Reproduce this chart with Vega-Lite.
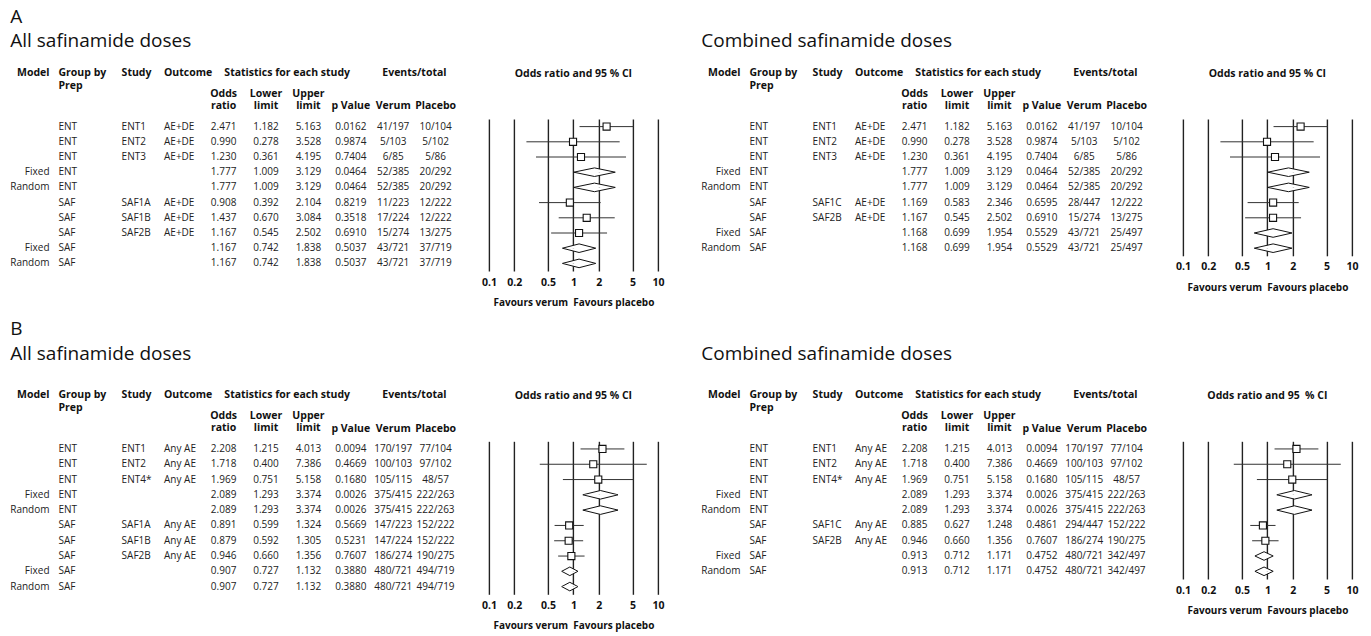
{
"$schema":"https://vega.github.io/schema/vega-lite/v6.json",
"background":"white",
"padding":{"left":10,"top":7,"right":5,"bottom":5},
"config":{"view":{"stroke":null},"font":"Open Sans",
 "text":{"font":"Open Sans","fontSize":10,"color":"#222","baseline":"middle"},
 "title":{"font":"Open Sans","fontSize":19,"fontWeight":"normal","anchor":"start","color":"#111"},
 "axisX":{"grid":true,"gridColor":"#222","gridWidth":1.4,"gridOpacity":1,"ticks":false,"domain":false,"labelFont":"Open Sans","labelFontWeight":"bold","labelFontSize":10.5,"labelColor":"#111","labelPadding":6,"labelFlush":false,"labelOverlap":false,"titleFont":"Open Sans","titleFontSize":10,"titleFontWeight":"bold","titleColor":"#111","titlePadding":10}},
"datasets":{
 "aL":[
  {"row":1,"model":"","group":"ENT","study":"ENT1","outcome":"AE+DE","or":2.471,"lo":1.182,"hi":5.163,"p":0.0162,"verum":"41/197","placebo":"10/104","kind":"study"},
  {"row":2,"model":"","group":"ENT","study":"ENT2","outcome":"AE+DE","or":0.990,"lo":0.278,"hi":3.528,"p":0.9874,"verum":"5/103","placebo":"5/102","kind":"study"},
  {"row":3,"model":"","group":"ENT","study":"ENT3","outcome":"AE+DE","or":1.230,"lo":0.361,"hi":4.195,"p":0.7404,"verum":"6/85","placebo":"5/86","kind":"study"},
  {"row":4,"model":"Fixed","group":"ENT","study":"","outcome":"","or":1.777,"lo":1.009,"hi":3.129,"p":0.0464,"verum":"52/385","placebo":"20/292","kind":"summary"},
  {"row":5,"model":"Random","group":"ENT","study":"","outcome":"","or":1.777,"lo":1.009,"hi":3.129,"p":0.0464,"verum":"52/385","placebo":"20/292","kind":"summary"},
  {"row":6,"model":"","group":"SAF","study":"SAF1A","outcome":"AE+DE","or":0.908,"lo":0.392,"hi":2.104,"p":0.8219,"verum":"11/223","placebo":"12/222","kind":"study"},
  {"row":7,"model":"","group":"SAF","study":"SAF1B","outcome":"AE+DE","or":1.437,"lo":0.670,"hi":3.084,"p":0.3518,"verum":"17/224","placebo":"12/222","kind":"study"},
  {"row":8,"model":"","group":"SAF","study":"SAF2B","outcome":"AE+DE","or":1.167,"lo":0.545,"hi":2.502,"p":0.6910,"verum":"15/274","placebo":"13/275","kind":"study"},
  {"row":9,"model":"Fixed","group":"SAF","study":"","outcome":"","or":1.167,"lo":0.742,"hi":1.838,"p":0.5037,"verum":"43/721","placebo":"37/719","kind":"summary"},
  {"row":10,"model":"Random","group":"SAF","study":"","outcome":"","or":1.167,"lo":0.742,"hi":1.838,"p":0.5037,"verum":"43/721","placebo":"37/719","kind":"summary"}],
 "aR":[
  {"row":1,"model":"","group":"ENT","study":"ENT1","outcome":"AE+DE","or":2.471,"lo":1.182,"hi":5.163,"p":0.0162,"verum":"41/197","placebo":"10/104","kind":"study"},
  {"row":2,"model":"","group":"ENT","study":"ENT2","outcome":"AE+DE","or":0.990,"lo":0.278,"hi":3.528,"p":0.9874,"verum":"5/103","placebo":"5/102","kind":"study"},
  {"row":3,"model":"","group":"ENT","study":"ENT3","outcome":"AE+DE","or":1.230,"lo":0.361,"hi":4.195,"p":0.7404,"verum":"6/85","placebo":"5/86","kind":"study"},
  {"row":4,"model":"Fixed","group":"ENT","study":"","outcome":"","or":1.777,"lo":1.009,"hi":3.129,"p":0.0464,"verum":"52/385","placebo":"20/292","kind":"summary"},
  {"row":5,"model":"Random","group":"ENT","study":"","outcome":"","or":1.777,"lo":1.009,"hi":3.129,"p":0.0464,"verum":"52/385","placebo":"20/292","kind":"summary"},
  {"row":6,"model":"","group":"SAF","study":"SAF1C","outcome":"AE+DE","or":1.169,"lo":0.583,"hi":2.346,"p":0.6595,"verum":"28/447","placebo":"12/222","kind":"study"},
  {"row":7,"model":"","group":"SAF","study":"SAF2B","outcome":"AE+DE","or":1.167,"lo":0.545,"hi":2.502,"p":0.6910,"verum":"15/274","placebo":"13/275","kind":"study"},
  {"row":8,"model":"Fixed","group":"SAF","study":"","outcome":"","or":1.168,"lo":0.699,"hi":1.954,"p":0.5529,"verum":"43/721","placebo":"25/497","kind":"summary"},
  {"row":9,"model":"Random","group":"SAF","study":"","outcome":"","or":1.168,"lo":0.699,"hi":1.954,"p":0.5529,"verum":"43/721","placebo":"25/497","kind":"summary"}],
 "bL":[
  {"row":1,"model":"","group":"ENT","study":"ENT1","outcome":"Any AE","or":2.208,"lo":1.215,"hi":4.013,"p":0.0094,"verum":"170/197","placebo":"77/104","kind":"study"},
  {"row":2,"model":"","group":"ENT","study":"ENT2","outcome":"Any AE","or":1.718,"lo":0.400,"hi":7.386,"p":0.4669,"verum":"100/103","placebo":"97/102","kind":"study"},
  {"row":3,"model":"","group":"ENT","study":"ENT4*","outcome":"Any AE","or":1.969,"lo":0.751,"hi":5.158,"p":0.1680,"verum":"105/115","placebo":"48/57","kind":"study"},
  {"row":4,"model":"Fixed","group":"ENT","study":"","outcome":"","or":2.089,"lo":1.293,"hi":3.374,"p":0.0026,"verum":"375/415","placebo":"222/263","kind":"summary"},
  {"row":5,"model":"Random","group":"ENT","study":"","outcome":"","or":2.089,"lo":1.293,"hi":3.374,"p":0.0026,"verum":"375/415","placebo":"222/263","kind":"summary"},
  {"row":6,"model":"","group":"SAF","study":"SAF1A","outcome":"Any AE","or":0.891,"lo":0.599,"hi":1.324,"p":0.5669,"verum":"147/223","placebo":"152/222","kind":"study"},
  {"row":7,"model":"","group":"SAF","study":"SAF1B","outcome":"Any AE","or":0.879,"lo":0.592,"hi":1.305,"p":0.5231,"verum":"147/224","placebo":"152/222","kind":"study"},
  {"row":8,"model":"","group":"SAF","study":"SAF2B","outcome":"Any AE","or":0.946,"lo":0.660,"hi":1.356,"p":0.7607,"verum":"186/274","placebo":"190/275","kind":"study"},
  {"row":9,"model":"Fixed","group":"SAF","study":"","outcome":"","or":0.907,"lo":0.727,"hi":1.132,"p":0.3880,"verum":"480/721","placebo":"494/719","kind":"summary"},
  {"row":10,"model":"Random","group":"SAF","study":"","outcome":"","or":0.907,"lo":0.727,"hi":1.132,"p":0.3880,"verum":"480/721","placebo":"494/719","kind":"summary"}],
 "bR":[
  {"row":1,"model":"","group":"ENT","study":"ENT1","outcome":"Any AE","or":2.208,"lo":1.215,"hi":4.013,"p":0.0094,"verum":"170/197","placebo":"77/104","kind":"study"},
  {"row":2,"model":"","group":"ENT","study":"ENT2","outcome":"Any AE","or":1.718,"lo":0.400,"hi":7.386,"p":0.4669,"verum":"100/103","placebo":"97/102","kind":"study"},
  {"row":3,"model":"","group":"ENT","study":"ENT4*","outcome":"Any AE","or":1.969,"lo":0.751,"hi":5.158,"p":0.1680,"verum":"105/115","placebo":"48/57","kind":"study"},
  {"row":4,"model":"Fixed","group":"ENT","study":"","outcome":"","or":2.089,"lo":1.293,"hi":3.374,"p":0.0026,"verum":"375/415","placebo":"222/263","kind":"summary"},
  {"row":5,"model":"Random","group":"ENT","study":"","outcome":"","or":2.089,"lo":1.293,"hi":3.374,"p":0.0026,"verum":"375/415","placebo":"222/263","kind":"summary"},
  {"row":6,"model":"","group":"SAF","study":"SAF1C","outcome":"Any AE","or":0.885,"lo":0.627,"hi":1.248,"p":0.4861,"verum":"294/447","placebo":"152/222","kind":"study"},
  {"row":7,"model":"","group":"SAF","study":"SAF2B","outcome":"Any AE","or":0.946,"lo":0.660,"hi":1.356,"p":0.7607,"verum":"186/274","placebo":"190/275","kind":"study"},
  {"row":8,"model":"Fixed","group":"SAF","study":"","outcome":"","or":0.913,"lo":0.712,"hi":1.171,"p":0.4752,"verum":"480/721","placebo":"342/497","kind":"summary"},
  {"row":9,"model":"Random","group":"SAF","study":"","outcome":"","or":0.913,"lo":0.712,"hi":1.171,"p":0.4752,"verum":"480/721","placebo":"342/497","kind":"summary"}],
 "hdr":[
  {"col":"MG","grp":"model","t":"Model"},
  {"col":"MG","grp":"group","t":"Group by\nPrep"},
  {"col":"study","grp":"left","t":"Study"},
  {"col":"outcome","grp":"left","t":"Outcome"},
  {"col":"Stats","grp":"span","t":"Statistics for each study"},
  {"col":"Events","grp":"span","t":"Events/total"},
  {"col":"or","grp":"sub2","t":"Odds\nratio"},
  {"col":"lo","grp":"sub2","t":"Lower\nlimit"},
  {"col":"hi","grp":"sub2","t":"Upper\nlimit"},
  {"col":"p","grp":"sub1","t":"p Value"},
  {"col":"verum","grp":"sub1","t":"Verum"},
  {"col":"placebo","grp":"sub1","t":"Placebo"}],
 "tplTop":[{"k":"lo","pos":"mid"},{"k":"or","pos":"top"},{"k":"hi","pos":"mid"}],
 "tplBot":[{"k":"lo","pos":"mid"},{"k":"or","pos":"bottom"},{"k":"hi","pos":"mid"}]
},
"bounds":"full",
"spacing":11.3,
"vconcat":[
{"title":{"text":"A","offset":5.7},"bounds":"full","spacing":37,"hconcat":[
 {"title":{"text":"All safinamide doses","offset":16.8},"bounds":"flush","spacing":52.9,"hconcat":[
  {"width":381.6,"height":152,"data":{"name":"aL"},"layer":[
   {"mark":{"type":"text","align":"right","dx":-4.5},"encoding":{"x":{"datum":"MG","type":"nominal","scale":{"type":"point","padding":0,"domain":["MG","s1","s2","study","s4","outcome","s6","s7","or","s9","lo","Stats","hi","s13","p","s15","verum","Events","placebo"]},"axis":null},"y":{"field":"row","type":"quantitative","scale":{"domain":[0.5,10.5],"reverse":true,"nice":false,"zero":false},"axis":null},"text":{"field":"model"}}},
   {"mark":{"type":"text","align":"left","dx":4.5},"encoding":{"x":{"datum":"MG","type":"nominal","axis":null},"y":{"field":"row","type":"quantitative","axis":null},"text":{"field":"group"}}},
   {"transform":[{"fold":["study","outcome"],"as":["col","val"]}],"mark":{"type":"text","align":"left","dx":4},"encoding":{"x":{"field":"col","type":"nominal","axis":null},"y":{"field":"row","type":"quantitative","axis":null},"text":{"field":"val"}}},
   {"transform":[{"fold":["or","lo","hi"],"as":["col","val"]}],"mark":{"type":"text","align":"center"},"encoding":{"x":{"field":"col","type":"nominal","axis":null},"y":{"field":"row","type":"quantitative","axis":null},"text":{"field":"val","type":"quantitative","format":".3f"}}},
   {"mark":{"type":"text","align":"center"},"encoding":{"x":{"datum":"p","type":"nominal","axis":null},"y":{"field":"row","type":"quantitative","axis":null},"text":{"field":"p","type":"quantitative","format":".4f"}}},
   {"transform":[{"fold":["verum","placebo"],"as":["col","val"]}],"mark":{"type":"text","align":"center"},"encoding":{"x":{"field":"col","type":"nominal","axis":null},"y":{"field":"row","type":"quantitative","axis":null},"text":{"field":"val"}}},
   {"data":{"name":"hdr"},"transform":[{"filter":"datum.grp==='model'"}],"mark":{"type":"text","align":"right","dx":-4.5,"baseline":"top","fontWeight":"bold","fontSize":10.5,"color":"#111"},"encoding":{"x":{"field":"col","type":"nominal","axis":null},"y":{"datum":-2.85,"type":"quantitative","axis":null},"text":{"field":"t"}}},
   {"data":{"name":"hdr"},"transform":[{"filter":"datum.grp==='group'"}],"mark":{"type":"text","align":"left","dx":4.5,"baseline":"top","lineBreak":"\n","lineHeight":13.3,"fontWeight":"bold","fontSize":10.5,"color":"#111"},"encoding":{"x":{"field":"col","type":"nominal","axis":null},"y":{"datum":-2.85,"type":"quantitative","axis":null},"text":{"field":"t"}}},
   {"data":{"name":"hdr"},"transform":[{"filter":"datum.grp==='left'"}],"mark":{"type":"text","align":"left","dx":4,"baseline":"top","fontWeight":"bold","fontSize":10.5,"color":"#111"},"encoding":{"x":{"field":"col","type":"nominal","axis":null},"y":{"datum":-2.85,"type":"quantitative","axis":null},"text":{"field":"t"}}},
   {"data":{"name":"hdr"},"transform":[{"filter":"datum.grp==='span'"}],"mark":{"type":"text","align":"center","baseline":"top","fontWeight":"bold","fontSize":10.5,"color":"#111"},"encoding":{"x":{"field":"col","type":"nominal","axis":null},"y":{"datum":-2.85,"type":"quantitative","axis":null},"text":{"field":"t"}}},
   {"data":{"name":"hdr"},"transform":[{"filter":"datum.grp==='sub2'"}],"mark":{"type":"text","align":"center","baseline":"top","lineBreak":"\n","lineHeight":12,"fontWeight":"bold","fontSize":10.5,"color":"#111"},"encoding":{"x":{"field":"col","type":"nominal","axis":null},"y":{"datum":-1.45,"type":"quantitative","axis":null},"text":{"field":"t"}}},
   {"data":{"name":"hdr"},"transform":[{"filter":"datum.grp==='sub1'"}],"mark":{"type":"text","align":"center","baseline":"top","fontWeight":"bold","fontSize":10.5,"color":"#111"},"encoding":{"x":{"field":"col","type":"nominal","axis":null},"y":{"datum":-0.66,"type":"quantitative","axis":null},"text":{"field":"t"}}}
  ]},
  {"width":169,"height":152,"data":{"name":"aL"},
   "title":{"text":"Odds ratio and 95 % CI","anchor":"middle","fontSize":10.5,"fontWeight":"bold","offset":39.4},
   "encoding":{"y":{"field":"row","type":"ordinal","scale":{"type":"band","paddingInner":0,"paddingOuter":0},"axis":null}},
   "layer":[
    {"transform":[{"filter":"datum.kind==='study'"}],"mark":{"type":"rule","color":"#333","strokeWidth":1},"encoding":{"x":{"field":"lo","type":"quantitative","scale":{"type":"log","domain":[0.1,10],"nice":false},"axis":{"values":[0.1,0.2,0.5,1,2,5,10],"format":"~g","title":"Favours verum \u00a0Favours placebo"}},"x2":{"field":"hi"}}},
    {"transform":[{"filter":"datum.kind==='study'"}],"mark":{"type":"point","shape":"square","size":50,"filled":true,"fill":"white","stroke":"#111","strokeWidth":1.1,"opacity":1},"encoding":{"x":{"field":"or","type":"quantitative"}}},
    {"transform":[{"filter":"datum.kind==='summary'"},{"fold":["lo","or","hi"],"as":["k","v"]},{"lookup":"k","from":{"data":{"name":"tplTop"},"key":"k","fields":["pos"]}}],"mark":{"type":"line","fill":"white","stroke":"#111","strokeWidth":1},"encoding":{"x":{"field":"v","type":"quantitative"},"yOffset":{"field":"pos","type":"nominal","scale":{"type":"point","domain":["top","mid","bottom"],"padding":0.77}},"detail":{"field":"row","type":"ordinal"},"order":{"field":"v","type":"quantitative"}}},
    {"transform":[{"filter":"datum.kind==='summary'"},{"fold":["lo","or","hi"],"as":["k","v"]},{"lookup":"k","from":{"data":{"name":"tplBot"},"key":"k","fields":["pos"]}}],"mark":{"type":"line","fill":"white","stroke":"#111","strokeWidth":1},"encoding":{"x":{"field":"v","type":"quantitative"},"yOffset":{"field":"pos","type":"nominal","scale":{"type":"point","domain":["top","mid","bottom"],"padding":0.77}},"detail":{"field":"row","type":"ordinal"},"order":{"field":"v","type":"quantitative"}}}
   ]}
 ]},
 {"title":{"text":"Combined safinamide doses","offset":16.8},"bounds":"flush","spacing":55.9,"hconcat":[
  {"width":381.6,"height":136.8,"data":{"name":"aR"},"layer":[
   {"mark":{"type":"text","align":"right","dx":-4.5},"encoding":{"x":{"datum":"MG","type":"nominal","scale":{"type":"point","padding":0,"domain":["MG","s1","s2","study","s4","outcome","s6","s7","or","s9","lo","Stats","hi","s13","p","s15","verum","Events","placebo"]},"axis":null},"y":{"field":"row","type":"quantitative","scale":{"domain":[0.5,9.5],"reverse":true,"nice":false,"zero":false},"axis":null},"text":{"field":"model"}}},
   {"mark":{"type":"text","align":"left","dx":4.5},"encoding":{"x":{"datum":"MG","type":"nominal","axis":null},"y":{"field":"row","type":"quantitative","axis":null},"text":{"field":"group"}}},
   {"transform":[{"fold":["study","outcome"],"as":["col","val"]}],"mark":{"type":"text","align":"left","dx":4},"encoding":{"x":{"field":"col","type":"nominal","axis":null},"y":{"field":"row","type":"quantitative","axis":null},"text":{"field":"val"}}},
   {"transform":[{"fold":["or","lo","hi"],"as":["col","val"]}],"mark":{"type":"text","align":"center"},"encoding":{"x":{"field":"col","type":"nominal","axis":null},"y":{"field":"row","type":"quantitative","axis":null},"text":{"field":"val","type":"quantitative","format":".3f"}}},
   {"mark":{"type":"text","align":"center"},"encoding":{"x":{"datum":"p","type":"nominal","axis":null},"y":{"field":"row","type":"quantitative","axis":null},"text":{"field":"p","type":"quantitative","format":".4f"}}},
   {"transform":[{"fold":["verum","placebo"],"as":["col","val"]}],"mark":{"type":"text","align":"center"},"encoding":{"x":{"field":"col","type":"nominal","axis":null},"y":{"field":"row","type":"quantitative","axis":null},"text":{"field":"val"}}},
   {"data":{"name":"hdr"},"transform":[{"filter":"datum.grp==='model'"}],"mark":{"type":"text","align":"right","dx":-4.5,"baseline":"top","fontWeight":"bold","fontSize":10.5,"color":"#111"},"encoding":{"x":{"field":"col","type":"nominal","axis":null},"y":{"datum":-2.85,"type":"quantitative","axis":null},"text":{"field":"t"}}},
   {"data":{"name":"hdr"},"transform":[{"filter":"datum.grp==='group'"}],"mark":{"type":"text","align":"left","dx":4.5,"baseline":"top","lineBreak":"\n","lineHeight":13.3,"fontWeight":"bold","fontSize":10.5,"color":"#111"},"encoding":{"x":{"field":"col","type":"nominal","axis":null},"y":{"datum":-2.85,"type":"quantitative","axis":null},"text":{"field":"t"}}},
   {"data":{"name":"hdr"},"transform":[{"filter":"datum.grp==='left'"}],"mark":{"type":"text","align":"left","dx":4,"baseline":"top","fontWeight":"bold","fontSize":10.5,"color":"#111"},"encoding":{"x":{"field":"col","type":"nominal","axis":null},"y":{"datum":-2.85,"type":"quantitative","axis":null},"text":{"field":"t"}}},
   {"data":{"name":"hdr"},"transform":[{"filter":"datum.grp==='span'"}],"mark":{"type":"text","align":"center","baseline":"top","fontWeight":"bold","fontSize":10.5,"color":"#111"},"encoding":{"x":{"field":"col","type":"nominal","axis":null},"y":{"datum":-2.85,"type":"quantitative","axis":null},"text":{"field":"t"}}},
   {"data":{"name":"hdr"},"transform":[{"filter":"datum.grp==='sub2'"}],"mark":{"type":"text","align":"center","baseline":"top","lineBreak":"\n","lineHeight":12,"fontWeight":"bold","fontSize":10.5,"color":"#111"},"encoding":{"x":{"field":"col","type":"nominal","axis":null},"y":{"datum":-1.45,"type":"quantitative","axis":null},"text":{"field":"t"}}},
   {"data":{"name":"hdr"},"transform":[{"filter":"datum.grp==='sub1'"}],"mark":{"type":"text","align":"center","baseline":"top","fontWeight":"bold","fontSize":10.5,"color":"#111"},"encoding":{"x":{"field":"col","type":"nominal","axis":null},"y":{"datum":-0.66,"type":"quantitative","axis":null},"text":{"field":"t"}}}
  ]},
  {"width":169,"height":136.8,"data":{"name":"aR"},
   "title":{"text":"Odds ratio and 95 % CI","anchor":"middle","fontSize":10.5,"fontWeight":"bold","offset":39.4},
   "encoding":{"y":{"field":"row","type":"ordinal","scale":{"type":"band","paddingInner":0,"paddingOuter":0},"axis":null}},
   "layer":[
    {"transform":[{"filter":"datum.kind==='study'"}],"mark":{"type":"rule","color":"#333","strokeWidth":1},"encoding":{"x":{"field":"lo","type":"quantitative","scale":{"type":"log","domain":[0.1,10],"nice":false},"axis":{"values":[0.1,0.2,0.5,1,2,5,10],"format":"~g","title":"Favours verum \u00a0Favours placebo"}},"x2":{"field":"hi"}}},
    {"transform":[{"filter":"datum.kind==='study'"}],"mark":{"type":"point","shape":"square","size":50,"filled":true,"fill":"white","stroke":"#111","strokeWidth":1.1,"opacity":1},"encoding":{"x":{"field":"or","type":"quantitative"}}},
    {"transform":[{"filter":"datum.kind==='summary'"},{"fold":["lo","or","hi"],"as":["k","v"]},{"lookup":"k","from":{"data":{"name":"tplTop"},"key":"k","fields":["pos"]}}],"mark":{"type":"line","fill":"white","stroke":"#111","strokeWidth":1},"encoding":{"x":{"field":"v","type":"quantitative"},"yOffset":{"field":"pos","type":"nominal","scale":{"type":"point","domain":["top","mid","bottom"],"padding":0.77}},"detail":{"field":"row","type":"ordinal"},"order":{"field":"v","type":"quantitative"}}},
    {"transform":[{"filter":"datum.kind==='summary'"},{"fold":["lo","or","hi"],"as":["k","v"]},{"lookup":"k","from":{"data":{"name":"tplBot"},"key":"k","fields":["pos"]}}],"mark":{"type":"line","fill":"white","stroke":"#111","strokeWidth":1},"encoding":{"x":{"field":"v","type":"quantitative"},"yOffset":{"field":"pos","type":"nominal","scale":{"type":"point","domain":["top","mid","bottom"],"padding":0.77}},"detail":{"field":"row","type":"ordinal"},"order":{"field":"v","type":"quantitative"}}}
   ]}
 ]}
]},
{"title":{"text":"B","offset":5.7},"bounds":"full","spacing":37,"hconcat":[
 {"title":{"text":"All safinamide doses","offset":26.5},"bounds":"flush","spacing":52.9,"hconcat":[
  {"width":381.6,"height":153,"data":{"name":"bL"},"layer":[
   {"mark":{"type":"text","align":"right","dx":-4.5},"encoding":{"x":{"datum":"MG","type":"nominal","scale":{"type":"point","padding":0,"domain":["MG","s1","s2","study","s4","outcome","s6","s7","or","s9","lo","Stats","hi","s13","p","s15","verum","Events","placebo"]},"axis":null},"y":{"field":"row","type":"quantitative","scale":{"domain":[0.5,10.5],"reverse":true,"nice":false,"zero":false},"axis":null},"text":{"field":"model"}}},
   {"mark":{"type":"text","align":"left","dx":4.5},"encoding":{"x":{"datum":"MG","type":"nominal","axis":null},"y":{"field":"row","type":"quantitative","axis":null},"text":{"field":"group"}}},
   {"transform":[{"fold":["study","outcome"],"as":["col","val"]}],"mark":{"type":"text","align":"left","dx":4},"encoding":{"x":{"field":"col","type":"nominal","axis":null},"y":{"field":"row","type":"quantitative","axis":null},"text":{"field":"val"}}},
   {"transform":[{"fold":["or","lo","hi"],"as":["col","val"]}],"mark":{"type":"text","align":"center"},"encoding":{"x":{"field":"col","type":"nominal","axis":null},"y":{"field":"row","type":"quantitative","axis":null},"text":{"field":"val","type":"quantitative","format":".3f"}}},
   {"mark":{"type":"text","align":"center"},"encoding":{"x":{"datum":"p","type":"nominal","axis":null},"y":{"field":"row","type":"quantitative","axis":null},"text":{"field":"p","type":"quantitative","format":".4f"}}},
   {"transform":[{"fold":["verum","placebo"],"as":["col","val"]}],"mark":{"type":"text","align":"center"},"encoding":{"x":{"field":"col","type":"nominal","axis":null},"y":{"field":"row","type":"quantitative","axis":null},"text":{"field":"val"}}},
   {"data":{"name":"hdr"},"transform":[{"filter":"datum.grp==='model'"}],"mark":{"type":"text","align":"right","dx":-4.5,"baseline":"top","fontWeight":"bold","fontSize":10.5,"color":"#111"},"encoding":{"x":{"field":"col","type":"nominal","axis":null},"y":{"datum":-2.85,"type":"quantitative","axis":null},"text":{"field":"t"}}},
   {"data":{"name":"hdr"},"transform":[{"filter":"datum.grp==='group'"}],"mark":{"type":"text","align":"left","dx":4.5,"baseline":"top","lineBreak":"\n","lineHeight":13.3,"fontWeight":"bold","fontSize":10.5,"color":"#111"},"encoding":{"x":{"field":"col","type":"nominal","axis":null},"y":{"datum":-2.85,"type":"quantitative","axis":null},"text":{"field":"t"}}},
   {"data":{"name":"hdr"},"transform":[{"filter":"datum.grp==='left'"}],"mark":{"type":"text","align":"left","dx":4,"baseline":"top","fontWeight":"bold","fontSize":10.5,"color":"#111"},"encoding":{"x":{"field":"col","type":"nominal","axis":null},"y":{"datum":-2.85,"type":"quantitative","axis":null},"text":{"field":"t"}}},
   {"data":{"name":"hdr"},"transform":[{"filter":"datum.grp==='span'"}],"mark":{"type":"text","align":"center","baseline":"top","fontWeight":"bold","fontSize":10.5,"color":"#111"},"encoding":{"x":{"field":"col","type":"nominal","axis":null},"y":{"datum":-2.85,"type":"quantitative","axis":null},"text":{"field":"t"}}},
   {"data":{"name":"hdr"},"transform":[{"filter":"datum.grp==='sub2'"}],"mark":{"type":"text","align":"center","baseline":"top","lineBreak":"\n","lineHeight":12,"fontWeight":"bold","fontSize":10.5,"color":"#111"},"encoding":{"x":{"field":"col","type":"nominal","axis":null},"y":{"datum":-1.45,"type":"quantitative","axis":null},"text":{"field":"t"}}},
   {"data":{"name":"hdr"},"transform":[{"filter":"datum.grp==='sub1'"}],"mark":{"type":"text","align":"center","baseline":"top","fontWeight":"bold","fontSize":10.5,"color":"#111"},"encoding":{"x":{"field":"col","type":"nominal","axis":null},"y":{"datum":-0.66,"type":"quantitative","axis":null},"text":{"field":"t"}}}
  ]},
  {"width":169,"height":153,"data":{"name":"bL"},
   "title":{"text":"Odds ratio and 95 % CI","anchor":"middle","fontSize":10.5,"fontWeight":"bold","offset":39.4},
   "encoding":{"y":{"field":"row","type":"ordinal","scale":{"type":"band","paddingInner":0,"paddingOuter":0},"axis":null}},
   "layer":[
    {"transform":[{"filter":"datum.kind==='study'"}],"mark":{"type":"rule","color":"#333","strokeWidth":1},"encoding":{"x":{"field":"lo","type":"quantitative","scale":{"type":"log","domain":[0.1,10],"nice":false},"axis":{"values":[0.1,0.2,0.5,1,2,5,10],"format":"~g","title":"Favours verum \u00a0Favours placebo"}},"x2":{"field":"hi"}}},
    {"transform":[{"filter":"datum.kind==='study'"}],"mark":{"type":"point","shape":"square","size":50,"filled":true,"fill":"white","stroke":"#111","strokeWidth":1.1,"opacity":1},"encoding":{"x":{"field":"or","type":"quantitative"}}},
    {"transform":[{"filter":"datum.kind==='summary'"},{"fold":["lo","or","hi"],"as":["k","v"]},{"lookup":"k","from":{"data":{"name":"tplTop"},"key":"k","fields":["pos"]}}],"mark":{"type":"line","fill":"white","stroke":"#111","strokeWidth":1},"encoding":{"x":{"field":"v","type":"quantitative"},"yOffset":{"field":"pos","type":"nominal","scale":{"type":"point","domain":["top","mid","bottom"],"padding":0.77}},"detail":{"field":"row","type":"ordinal"},"order":{"field":"v","type":"quantitative"}}},
    {"transform":[{"filter":"datum.kind==='summary'"},{"fold":["lo","or","hi"],"as":["k","v"]},{"lookup":"k","from":{"data":{"name":"tplBot"},"key":"k","fields":["pos"]}}],"mark":{"type":"line","fill":"white","stroke":"#111","strokeWidth":1},"encoding":{"x":{"field":"v","type":"quantitative"},"yOffset":{"field":"pos","type":"nominal","scale":{"type":"point","domain":["top","mid","bottom"],"padding":0.77}},"detail":{"field":"row","type":"ordinal"},"order":{"field":"v","type":"quantitative"}}}
   ]}
 ]},
 {"title":{"text":"Combined safinamide doses","offset":26.5},"bounds":"flush","spacing":55.9,"hconcat":[
  {"width":381.6,"height":137.7,"data":{"name":"bR"},"layer":[
   {"mark":{"type":"text","align":"right","dx":-4.5},"encoding":{"x":{"datum":"MG","type":"nominal","scale":{"type":"point","padding":0,"domain":["MG","s1","s2","study","s4","outcome","s6","s7","or","s9","lo","Stats","hi","s13","p","s15","verum","Events","placebo"]},"axis":null},"y":{"field":"row","type":"quantitative","scale":{"domain":[0.5,9.5],"reverse":true,"nice":false,"zero":false},"axis":null},"text":{"field":"model"}}},
   {"mark":{"type":"text","align":"left","dx":4.5},"encoding":{"x":{"datum":"MG","type":"nominal","axis":null},"y":{"field":"row","type":"quantitative","axis":null},"text":{"field":"group"}}},
   {"transform":[{"fold":["study","outcome"],"as":["col","val"]}],"mark":{"type":"text","align":"left","dx":4},"encoding":{"x":{"field":"col","type":"nominal","axis":null},"y":{"field":"row","type":"quantitative","axis":null},"text":{"field":"val"}}},
   {"transform":[{"fold":["or","lo","hi"],"as":["col","val"]}],"mark":{"type":"text","align":"center"},"encoding":{"x":{"field":"col","type":"nominal","axis":null},"y":{"field":"row","type":"quantitative","axis":null},"text":{"field":"val","type":"quantitative","format":".3f"}}},
   {"mark":{"type":"text","align":"center"},"encoding":{"x":{"datum":"p","type":"nominal","axis":null},"y":{"field":"row","type":"quantitative","axis":null},"text":{"field":"p","type":"quantitative","format":".4f"}}},
   {"transform":[{"fold":["verum","placebo"],"as":["col","val"]}],"mark":{"type":"text","align":"center"},"encoding":{"x":{"field":"col","type":"nominal","axis":null},"y":{"field":"row","type":"quantitative","axis":null},"text":{"field":"val"}}},
   {"data":{"name":"hdr"},"transform":[{"filter":"datum.grp==='model'"}],"mark":{"type":"text","align":"right","dx":-4.5,"baseline":"top","fontWeight":"bold","fontSize":10.5,"color":"#111"},"encoding":{"x":{"field":"col","type":"nominal","axis":null},"y":{"datum":-2.85,"type":"quantitative","axis":null},"text":{"field":"t"}}},
   {"data":{"name":"hdr"},"transform":[{"filter":"datum.grp==='group'"}],"mark":{"type":"text","align":"left","dx":4.5,"baseline":"top","lineBreak":"\n","lineHeight":13.3,"fontWeight":"bold","fontSize":10.5,"color":"#111"},"encoding":{"x":{"field":"col","type":"nominal","axis":null},"y":{"datum":-2.85,"type":"quantitative","axis":null},"text":{"field":"t"}}},
   {"data":{"name":"hdr"},"transform":[{"filter":"datum.grp==='left'"}],"mark":{"type":"text","align":"left","dx":4,"baseline":"top","fontWeight":"bold","fontSize":10.5,"color":"#111"},"encoding":{"x":{"field":"col","type":"nominal","axis":null},"y":{"datum":-2.85,"type":"quantitative","axis":null},"text":{"field":"t"}}},
   {"data":{"name":"hdr"},"transform":[{"filter":"datum.grp==='span'"}],"mark":{"type":"text","align":"center","baseline":"top","fontWeight":"bold","fontSize":10.5,"color":"#111"},"encoding":{"x":{"field":"col","type":"nominal","axis":null},"y":{"datum":-2.85,"type":"quantitative","axis":null},"text":{"field":"t"}}},
   {"data":{"name":"hdr"},"transform":[{"filter":"datum.grp==='sub2'"}],"mark":{"type":"text","align":"center","baseline":"top","lineBreak":"\n","lineHeight":12,"fontWeight":"bold","fontSize":10.5,"color":"#111"},"encoding":{"x":{"field":"col","type":"nominal","axis":null},"y":{"datum":-1.45,"type":"quantitative","axis":null},"text":{"field":"t"}}},
   {"data":{"name":"hdr"},"transform":[{"filter":"datum.grp==='sub1'"}],"mark":{"type":"text","align":"center","baseline":"top","fontWeight":"bold","fontSize":10.5,"color":"#111"},"encoding":{"x":{"field":"col","type":"nominal","axis":null},"y":{"datum":-0.66,"type":"quantitative","axis":null},"text":{"field":"t"}}}
  ]},
  {"width":169,"height":137.7,"data":{"name":"bR"},
   "title":{"text":"Odds ratio and 95 \u00a0% CI","anchor":"middle","fontSize":10.5,"fontWeight":"bold","offset":39.4},
   "encoding":{"y":{"field":"row","type":"ordinal","scale":{"type":"band","paddingInner":0,"paddingOuter":0},"axis":null}},
   "layer":[
    {"transform":[{"filter":"datum.kind==='study'"}],"mark":{"type":"rule","color":"#333","strokeWidth":1},"encoding":{"x":{"field":"lo","type":"quantitative","scale":{"type":"log","domain":[0.1,10],"nice":false},"axis":{"values":[0.1,0.2,0.5,1,2,5,10],"format":"~g","title":"Favours verum \u00a0Favours placebo"}},"x2":{"field":"hi"}}},
    {"transform":[{"filter":"datum.kind==='study'"}],"mark":{"type":"point","shape":"square","size":50,"filled":true,"fill":"white","stroke":"#111","strokeWidth":1.1,"opacity":1},"encoding":{"x":{"field":"or","type":"quantitative"}}},
    {"transform":[{"filter":"datum.kind==='summary'"},{"fold":["lo","or","hi"],"as":["k","v"]},{"lookup":"k","from":{"data":{"name":"tplTop"},"key":"k","fields":["pos"]}}],"mark":{"type":"line","fill":"white","stroke":"#111","strokeWidth":1},"encoding":{"x":{"field":"v","type":"quantitative"},"yOffset":{"field":"pos","type":"nominal","scale":{"type":"point","domain":["top","mid","bottom"],"padding":0.77}},"detail":{"field":"row","type":"ordinal"},"order":{"field":"v","type":"quantitative"}}},
    {"transform":[{"filter":"datum.kind==='summary'"},{"fold":["lo","or","hi"],"as":["k","v"]},{"lookup":"k","from":{"data":{"name":"tplBot"},"key":"k","fields":["pos"]}}],"mark":{"type":"line","fill":"white","stroke":"#111","strokeWidth":1},"encoding":{"x":{"field":"v","type":"quantitative"},"yOffset":{"field":"pos","type":"nominal","scale":{"type":"point","domain":["top","mid","bottom"],"padding":0.77}},"detail":{"field":"row","type":"ordinal"},"order":{"field":"v","type":"quantitative"}}}
   ]}
 ]}
]}
]
}
